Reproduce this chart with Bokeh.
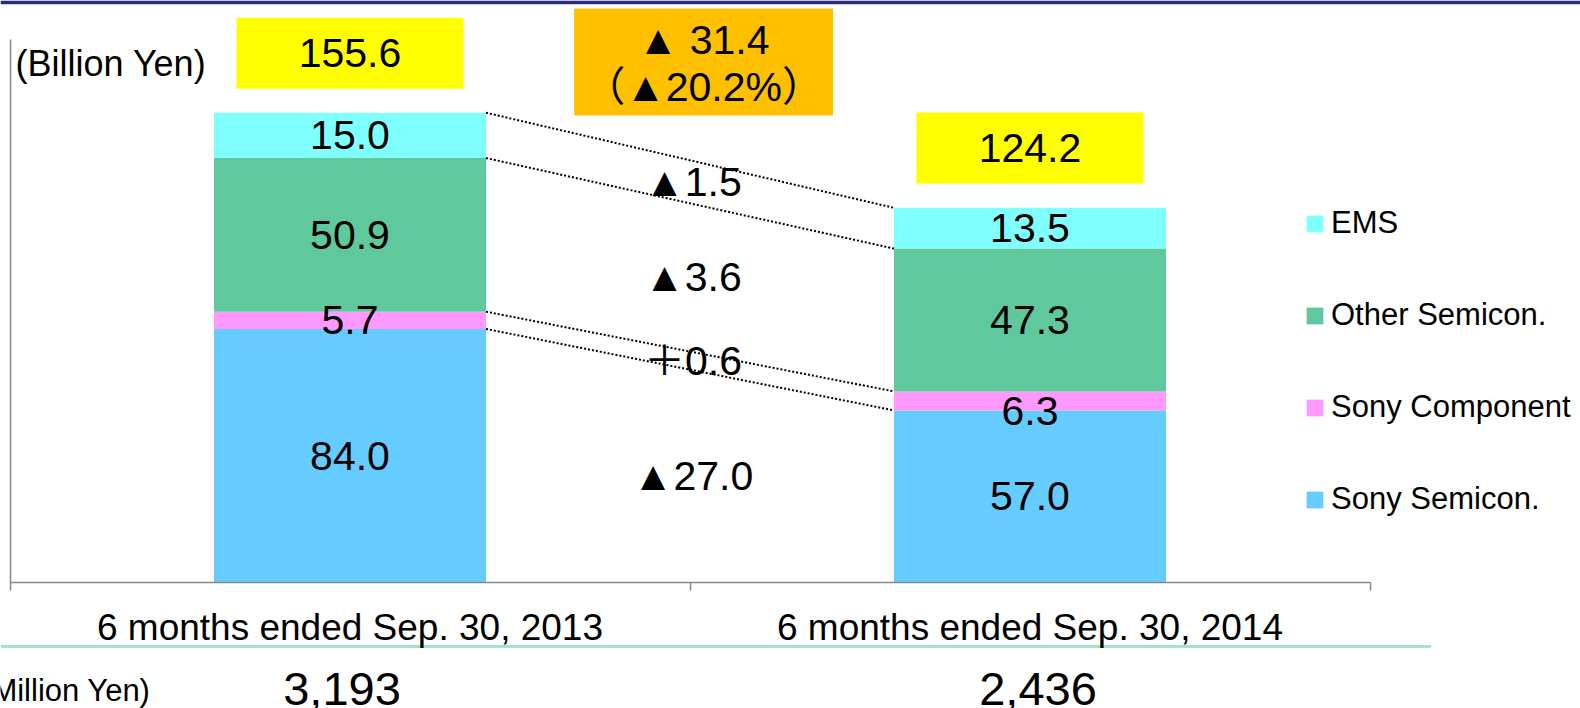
from bokeh.plotting import figure
from bokeh.models import Range1d, LinearAxis, FixedTicker, Legend, LegendItem, ColumnDataSource
from bokeh.core.properties import value
from bokeh.embed import file_html
from bokeh.resources import INLINE

# ---------------- data ----------------
periods = ["6 months ended Sep. 30, 2013", "6 months ended Sep. 30, 2014"]
segments = ["Sony Semicon.", "Sony Component", "Other Semicon.", "EMS"]
sony_semicon = [84.0, 57.0]
sony_component = [5.7, 6.3]
other_semicon = [50.9, 47.3]
ems = [15.0, 13.5]
totals = [155.6, 124.2]
million_yen = ["3,193", "2,436"]
unit_top = "(Billion Yen)"
unit_bottom = "(Million Yen)"

# ---------------- style ----------------
FONT = "Liberation Sans, Noto Sans CJK JP"
seg_colors = ["#66CCFF", "#FF99FF", "#5FC89D", "#80FFFF"]
GRAY = "#878787"
NAVY = "#2B2A7C"

# pixel geometry of the frame (linear mapping data -> screen)
PX_X = 680.0          # pixels per category
X0_PX = 9.5           # screen x of x=0
PX_Y = 3.019          # pixels per billion yen
Y0_PX = 582.0         # screen y of y=0
TOP_BORDER = 4
W, H = 1580, 708

x_range = Range1d(-X0_PX / PX_X, (W - X0_PX) / PX_X)
y_range = Range1d(-(H - Y0_PX) / PX_Y, (Y0_PX - TOP_BORDER) / PX_Y)

p = figure(width=W, height=H, output_backend="svg", toolbar_location=None,
           x_range=x_range, y_range=y_range, x_axis_location=None, y_axis_location=None,
           title=None, min_border_left=0, min_border_right=0, min_border_bottom=0,
           min_border_top=TOP_BORDER, border_fill_color=NAVY,
           background_fill_color="white", outline_line_color=None)
p.grid.visible = False

# axes
xaxis = LinearAxis(fixed_location=0, bounds=(0, 2), ticker=FixedTicker(ticks=[0, 1, 2]),
                   major_label_overrides={0: "", 1: "", 2: ""}, major_label_text_color=None,
                   major_tick_in=0, major_tick_out=8,
                   axis_line_color=GRAY, axis_line_width=1.5, major_tick_line_color=GRAY,
                   major_tick_line_width=1.5, minor_tick_line_color=None)
p.add_layout(xaxis, "below")

xs = [i + 0.5 for i in range(len(periods))]
label_axis = LinearAxis(fixed_location=0, ticker=FixedTicker(ticks=xs),
                        major_label_overrides={x: lab for x, lab in zip(xs, periods)},
                        major_label_text_font=FONT, major_label_text_font_size="37px",
                        major_label_text_color="black", major_label_standoff=24,
                        major_tick_in=0, major_tick_out=0, axis_line_color=None,
                        major_tick_line_color=None, minor_tick_line_color=None)
p.add_layout(label_axis, "below")

yaxis = LinearAxis(fixed_location=0, bounds=(0, 180), ticker=FixedTicker(ticks=[]),
                   axis_line_color=GRAY, axis_line_width=1.5, major_tick_line_color=None,
                   minor_tick_line_color=None, major_label_text_color=None)
p.add_layout(yaxis, "left")

# stacked bars
keys = ["sony_semicon", "sony_component", "other_semicon", "ems"]
series = [sony_semicon, sony_component, other_semicon, ems]
src = ColumnDataSource(dict(x=xs, **{k: v for k, v in zip(keys, series)}))
bars = p.vbar_stack(keys, x="x", width=0.4, color=seg_colors, line_color=None, source=src)

# value labels inside segments
lab_x, lab_y, lab_t, lab_off = [], [], [], []
mids = []
for j in range(len(periods)):
    base = 0.0
    m = []
    for s in series:
        v = s[j]
        m.append(base + v / 2)
        lab_x.append(xs[j]); lab_y.append(base + v / 2); lab_t.append(f"{v:.1f}")
        lab_off.append(10 if (s is sony_component and j == 1) else 0)
        base += v
    mids.append(m)
p.text(x=lab_x, y=lab_y, text=lab_t, y_offset=lab_off, text_align="center",
       text_baseline="middle", text_font=value(FONT), text_font_size="41px", text_color="black")

# dotted connectors between segment tops
tops = []
for j in range(len(periods)):
    acc, t = 0.0, []
    for s in series:
        acc += s[j]
        t.append(acc)
    tops.append(t)
p.segment(x0=[xs[0] + 0.2] * 4, y0=tops[0], x1=[xs[1] - 0.2] * 4, y1=tops[1],
          line_color="black", line_width=2, line_dash="2 2")

# change labels between bars
dl_y, dl_t = [], []
for k, s in enumerate(series):
    d = round(s[1] - s[0], 1)
    dl_t.append(("▲" if d < 0 else "＋") + f"{abs(d):.1f}")
    dl_y.append((mids[0][k] + mids[1][k]) / 2)
p.text(x=[1.0] * len(dl_t), y=dl_y, text=dl_t, x_offset=3, text_align="center",
       text_baseline="middle", text_font=value(FONT), text_font_size="41px", text_color="black")

# totals in yellow boxes
tot_y = [t + 19.7 for t in totals]
p.rect(x=xs, y=tot_y, width=227, height=71, width_units="screen", height_units="screen",
       fill_color="#FFFF00", line_color=None)
p.text(x=xs, y=tot_y, text=[f"{t:.1f}" for t in totals], text_align="center",
       text_baseline="middle", text_font=value(FONT), text_font_size="41px", text_color="black")

# total change box
dtot = round(totals[1] - totals[0], 1)
pct = round(abs(dtot) / totals[0] * 100, 1)
sign = "▲" if dtot < 0 else "＋"
box_x = 1.02
box_y = max(totals) + 16.8
p.rect(x=[box_x], y=[box_y], width=259, height=107, width_units="screen", height_units="screen",
       fill_color="#FFC000", line_color=None)
p.text(x=[box_x, box_x], y=[box_y, box_y], text=[f"{sign} {abs(dtot):.1f}", f"（{sign}{pct:.1f}%）"],
       y_offset=[-22, 25], text_align="center", text_baseline="middle",
       text_font=value(FONT), text_font_size="41px", text_color="black")

# unit notes
p.text(x=[0], y=[180], text=[unit_top], x_offset=5.5, y_offset=24.5, text_align="left",
       text_baseline="middle", text_font=value(FONT), text_font_size="36px", text_color="black")

# lower table: separator line, unit and numbers
p.segment(x0=[x_range.start], y0=[-21.2], x1=[2.09], y1=[-21.2], line_color="#A8E2CC", line_width=3)
p.text(x=[0], y=[0], text=[unit_bottom], x_offset=140.5, y_offset=108, text_align="right",
       text_baseline="middle", text_font=value(FONT), text_font_size="31px", text_color="black")
p.text(x=xs, y=[0, 0], text=million_yen, x_offset=[-8, 8], y_offset=106, text_align="center",
       text_baseline="middle", text_font=value(FONT), text_font_size="47px", text_color="black")

# legend (top segment first)
items = [LegendItem(label=segments[k], renderers=[bars[k]]) for k in reversed(range(len(segments)))]
legend = Legend(items=items, location=(1304, 189), orientation="vertical",
                glyph_width=21, glyph_height=21, label_standoff=6, label_height=40, spacing=52,
                padding=0, margin=0, border_line_color=None, background_fill_alpha=0,
                label_text_font=FONT, label_text_font_size="31px", label_text_color="black")
p.add_layout(legend, "center")

open("out.html", "w").write(file_html(p, INLINE))
